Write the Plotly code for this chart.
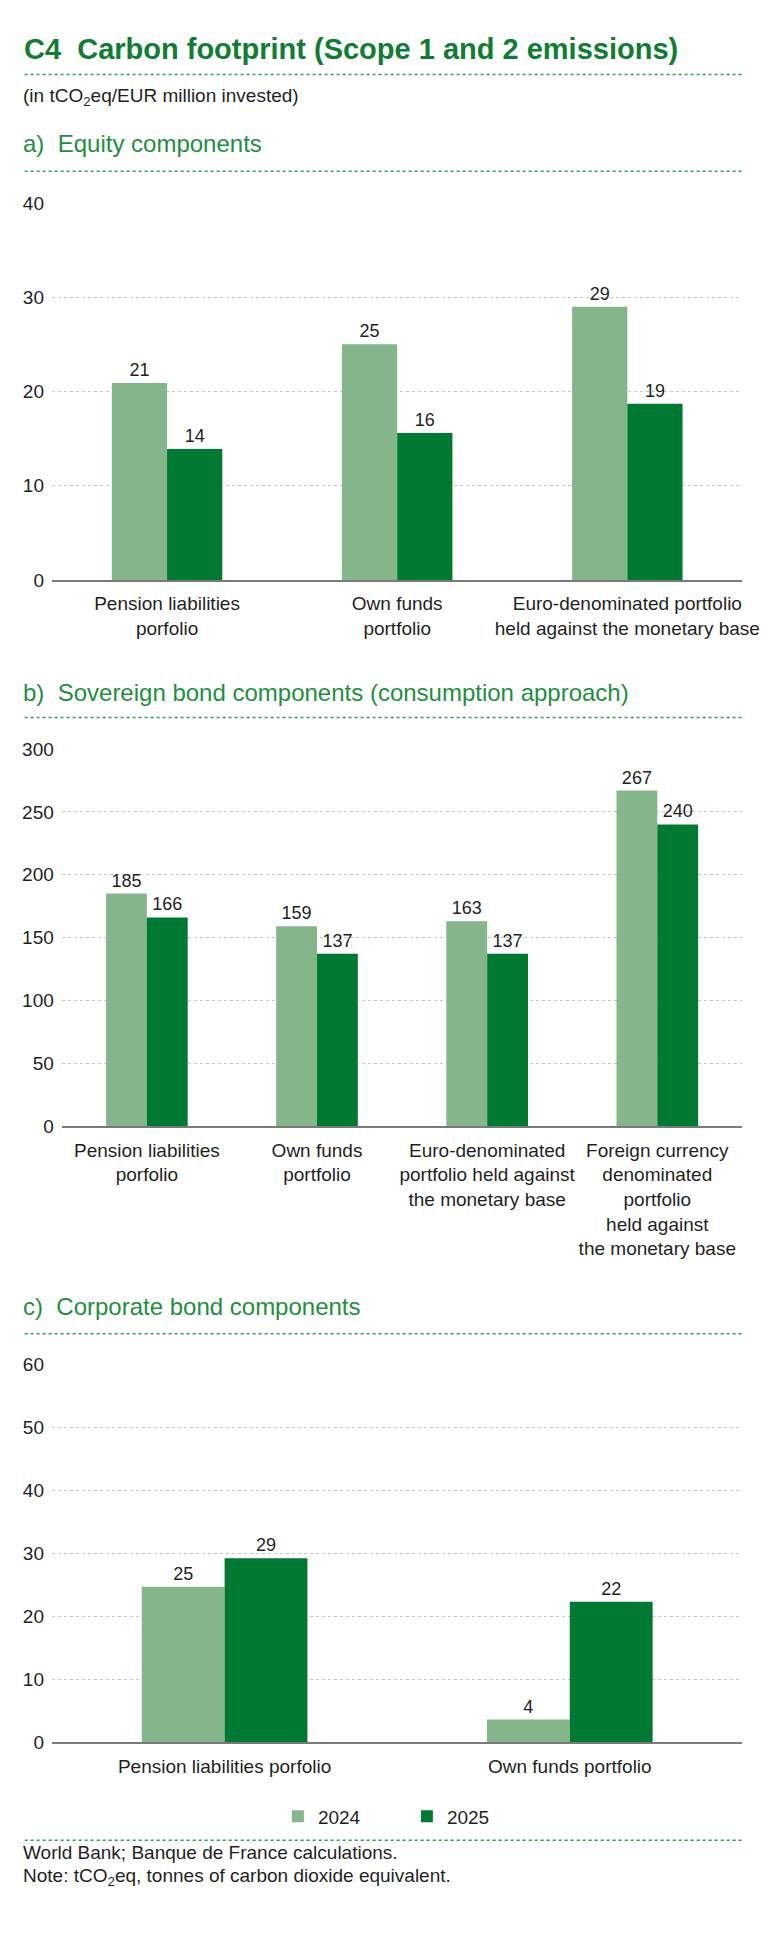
import plotly.graph_objects as go

# ---- data ----
equity_cats = ["Pension liabilities<br>porfolio", "Own funds<br>portfolio",
               "Euro-denominated portfolio<br>held against the monetary base"]
equity_2024 = [20.9, 25.0, 29.0]
equity_2025 = [13.9, 15.6, 18.7]

sov_cats = ["Pension liabilities<br>porfolio", "Own funds<br>portfolio",
            "Euro-denominated<br>portfolio held against<br>the monetary base",
            "Foreign currency<br>denominated<br>portfolio<br>held against<br>the monetary base"]
sov_2024 = [185, 159, 163, 267]
sov_2025 = [166, 137, 137, 240]

corp_cats = ["Pension liabilities porfolio", "Own funds portfolio"]
corp_2024 = [24.7, 3.6]
corp_2025 = [29.2, 22.3]

years = ["2024", "2025"]

# ---- style ----
W, H = 768, 1953
FONT = "Liberation Sans Narrow, Arial Narrow, Liberation Sans, Arial, sans-serif"
LIGHT = "#85b58a"
DARK = "#007a33"
TITLE_GREEN = "#0f7d32"
HEAD_GREEN = "#1e8f3f"
DOT_GREEN = "#2e9e50"
TXT = "#1f1f1f"


def py(px):
    return 1 - px / H


def px_x(px):
    return px / W


fig = go.Figure()

panels = [
    ("", equity_cats, equity_2024, equity_2025, True),
    ("2", sov_cats, sov_2024, sov_2025, False),
    ("3", corp_cats, corp_2024, corp_2025, False),
]
for suffix, cats, v24, v25, show in panels:
    for name, vals, col in [(years[0], v24, LIGHT), (years[1], v25, DARK)]:
        fig.add_trace(go.Bar(
            x=cats, y=vals, name=name, marker=dict(color=col, line=dict(width=0)),
            text=[f"{v:.0f}" for v in vals], textposition="outside",
            textfont=dict(family=FONT, size=18, color=TXT),
            constraintext="none", cliponaxis=False,
            xaxis="x" + suffix, yaxis="y" + suffix,
            legendgroup=name, showlegend=show, hoverinfo="skip",
        ))

# panel geometry in pixels: (x0, x1, ytop, ybottom, ymax, dtick)
geo = {
    "": (45, 751, 187, 568, 40, 10),
    "2": (55, 751, 739, 1120, 300, 50),
    "3": (45, 751, 1361, 1743, 60, 10),
}
axes = {}
for suffix, (x0, x1, yt, yb, ymax, dt) in geo.items():
    axes["xaxis" + suffix] = dict(
        domain=[px_x(x0), px_x(x1)], anchor="y" + suffix,
        showgrid=False, showline=True, linecolor="#7a7a7a", linewidth=1.5,
        ticks="", tickangle=0, ticklabelstandoff=6,
        tickfont=dict(family=FONT, size=19, color=TXT),
        fixedrange=True,
    )
    axes["yaxis" + suffix] = dict(
        domain=[py(yb), py(yt)], anchor="x" + suffix, range=[0, ymax], dtick=dt,
        showgrid=True, gridcolor="#c6c6c6", griddash="3px,3px", gridwidth=1,
        zeroline=False, showline=False, ticks="",
        ticklabelstandoff=7,
        tickfont=dict(family=FONT, size=19, color=TXT),
        fixedrange=True,
    )

annotations = [
    dict(text="<b>C4\u00a0\u00a0Carbon footprint (Scope 1 and 2 emissions)</b>",
         x=px_x(14), y=py(31), font=dict(family=FONT, size=29, color=TITLE_GREEN)),
    dict(text="(in tCO<sub>2</sub>eq/EUR million invested)",
         x=px_x(13), y=py(80), font=dict(family=FONT, size=19, color=TXT)),
    dict(text="a)\u00a0 Equity components",
         x=px_x(13), y=py(127), font=dict(family=FONT, size=24, color=HEAD_GREEN)),
    dict(text="b)\u00a0 Sovereign bond components (consumption approach)",
         x=px_x(13), y=py(682), font=dict(family=FONT, size=24, color=HEAD_GREEN)),
    dict(text="c)\u00a0 Corporate bond components",
         x=px_x(13), y=py(1302), font=dict(family=FONT, size=24, color=HEAD_GREEN)),
    dict(text="World Bank; Banque de France calculations.",
         x=px_x(13), y=py(1854), font=dict(family=FONT, size=19, color=TXT)),
    dict(text="Note: tCO<sub>2</sub>eq, tonnes of carbon dioxide equivalent.",
         x=px_x(13), y=py(1879), font=dict(family=FONT, size=19, color=TXT)),
]
for a in annotations:
    a.update(xref="paper", yref="paper", xanchor="left", yanchor="middle",
             showarrow=False, align="left")

shapes = []
for yline in [57, 155, 707, 1330, 1842]:
    shapes.append(dict(type="line", xref="paper", yref="paper",
                       x0=px_x(17), x1=px_x(751), y0=py(yline), y1=py(yline),
                       line=dict(color=DOT_GREEN, width=1.5, dash="dot")))

fig.update_layout(
    width=W, height=H,
    margin=dict(l=0, r=0, t=0, b=0),
    paper_bgcolor="white", plot_bgcolor="white",
    barmode="group", bargap=0.52, bargroupgap=0,
    showlegend=True,
    legend=dict(orientation="h", x=px_x(276), xanchor="left",
                y=py(1818), yanchor="middle",
                font=dict(family=FONT, size=19, color=TXT),
                entrywidth=84, entrywidthmode="pixels",
                bgcolor="rgba(0,0,0,0)"),
    annotations=annotations,
    shapes=shapes,
    **axes,
)

fig.write_html("out.html")
